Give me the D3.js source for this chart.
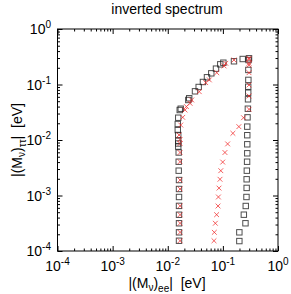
<!DOCTYPE html>
<html><head><meta charset="utf-8">
<script src="https://cdn.jsdelivr.net/npm/d3@7"></script>
<style>body{margin:0;background:#fff}svg{display:block}</style>
</head><body><svg id="c" width="291" height="294"></svg>
<script>
const title = "inverted spectrum";
const tickExps = [-4, -3, -2, -1, 0];
// series: open squares (black)
const squares = [
 [0.016,1.53e-4],[0.016,2.17e-4],[0.016,3.16e-4],[0.016,4.5e-4],[0.016,6.5e-4],[0.016,9.4e-4],
 [0.016,1.31e-3],[0.016,1.9e-3],[0.0158,2.8e-3],[0.0158,4.06e-3],[0.0158,5.95e-3],[0.0155,7.6e-3],
 [0.0155,8.65e-3],[0.0155,0.0097],[0.0155,0.0123],[0.0152,0.0151],[0.0152,0.0194],[0.0155,0.0252],
 [0.0165,0.0347],[0.0172,0.0366],[0.0236,0.0526],[0.0245,0.0565],[0.0312,0.0754],[0.0364,0.0902],
 [0.0435,0.111],[0.0515,0.135],[0.0616,0.159],[0.075,0.193],[0.0897,0.231],[0.102,0.247],
 [0.159,0.262],[0.229,0.288],[0.298,0.297],
 [0.292,0.276],[0.29,0.183],[0.29,0.121],[0.288,0.0912],[0.288,0.0711],[0.286,0.0541],[0.284,0.0366],
 [0.28,0.0256],[0.277,0.0174],[0.277,0.0122],[0.277,8.37e-3],[0.277,5.76e-3],[0.275,4.06e-3],
 [0.272,2.8e-3],[0.27,1.96e-3],[0.27,1.37e-3],[0.268,9.4e-4],[0.26,6.47e-4],[0.24,4.51e-4],
 [0.257,3.16e-4],[0.199,2.17e-4],[0.199,1.51e-4]
];
// series: crosses (red)
const crosses = [
 [0.0167,1.53e-4],[0.0167,2.17e-4],[0.0167,3.16e-4],[0.0167,4.5e-4],[0.0167,6.5e-4],[0.0167,1.31e-3],
 [0.0167,1.9e-3],[0.0167,4.06e-3],[0.0167,5.95e-3],[0.0167,8.65e-3],[0.0167,0.0102],[0.016,0.0123],
 [0.0172,0.0186],[0.0187,0.0256],[0.0206,0.0347],[0.0218,0.040],[0.0254,0.0458],[0.0272,0.0526],
 [0.0373,0.0742],[0.0488,0.108],[0.0568,0.121],[0.0775,0.163],[0.105,0.216],[0.113,0.241],[0.159,0.276],
 [0.298,0.297],[0.298,0.284],[0.298,0.241],[0.298,0.224],[0.298,0.163],[0.298,0.098],[0.298,0.0621],
 [0.298,0.0357],[0.237,0.0252],[0.195,0.0174],[0.152,0.0132],[0.122,8.5e-3],[0.109,5.95e-3],
 [0.0993,4.0e-3],[0.0917,2.8e-3],[0.0887,1.96e-3],[0.0851,1.36e-3],[0.083,9.4e-4],[0.0817,6.47e-4],
 [0.077,4.51e-4],[0.073,3.16e-4],[0.070,2.17e-4],[0.069,1.53e-4]
];

const svg = d3.select("#c");
const L = 57.5, R = 278, T = 29, B = 251;
const x = d3.scaleLog().domain([1e-4, 1]).range([L, R]);
const y = d3.scaleLog().domain([1e-4, 1]).range([B, T]);
const font = "'Liberation Sans', Arial, sans-serif";

const majors = tickExps.map(e => Math.pow(10, e));
const minors = [];
tickExps.slice(0, -1).forEach(e => { for (let k = 2; k <= 9; k++) minors.push(k * Math.pow(10, e)); });

function axisG(axisFn, scale, vals, size, tr) {
  const g = svg.append("g").attr("transform", tr)
    .call(axisFn(scale).tickValues(vals).tickSize(size).tickFormat(""));
  g.select(".domain").remove();
  g.selectAll("line").attr("stroke", "#000").attr("stroke-width", 1);
}
axisG(d3.axisBottom, x, majors, -5, `translate(0,${B})`);
axisG(d3.axisBottom, x, minors, -2.5, `translate(0,${B})`);
axisG(d3.axisTop, x, majors, -5, `translate(0,${T})`);
axisG(d3.axisTop, x, minors, -2.5, `translate(0,${T})`);
axisG(d3.axisLeft, y, majors, -5, `translate(${L},0)`);
axisG(d3.axisLeft, y, minors, -2.5, `translate(${L},0)`);
axisG(d3.axisRight, y, majors, -5, `translate(${R},0)`);
axisG(d3.axisRight, y, minors, -2.5, `translate(${R},0)`);

svg.append("rect").attr("x", L).attr("y", T).attr("width", R - L).attr("height", B - T)
  .attr("fill", "none").attr("stroke", "#000").attr("stroke-width", 1);

// tick labels
function powLabel(g, e) {
  g.append("tspan").text("10");
  g.append("tspan").attr("dy", -6).attr("font-size", 10).text(String(e));
}
tickExps.forEach(e => {
  const t = svg.append("text").attr("x", x(Math.pow(10, e))).attr("y", 271)
    .attr("text-anchor", "middle").attr("font-family", font).attr("font-size", 14);
  powLabel(t, e);
  const t2 = svg.append("text").attr("x", 51).attr("y", y(Math.pow(10, e)) + 5)
    .attr("text-anchor", "end").attr("font-family", font).attr("font-size", 14);
  powLabel(t2, e);
});

svg.append("text").attr("x", 167).attr("y", 14).attr("text-anchor", "middle")
  .attr("font-family", font).attr("font-size", 14).text(title);

function massLabel(t, sub) {
  t.append("tspan").text("|(M");
  t.append("tspan").attr("dy", 3).attr("font-size", 10).text("ν");
  t.append("tspan").attr("dy", -3).text(")");
  t.append("tspan").attr("dy", 4).attr("font-size", 10).text(sub);
  t.append("tspan").attr("dy", -4).text("|\u00a0\u00a0[eV]");
}
const xl = svg.append("text").attr("x", 167).attr("y", 288).attr("text-anchor", "middle")
  .attr("font-family", font).attr("font-size", 14);
massLabel(xl, "ee");
const yl = svg.append("text").attr("transform", "translate(22,140) rotate(-90)")
  .attr("text-anchor", "middle").attr("font-family", font).attr("font-size", 14);
massLabel(yl, "ττ");

// data
const s = 2.7;
svg.append("g").selectAll("rect").data(squares).join("rect")
  .attr("x", d => x(d[0]) - s).attr("y", d => y(d[1]) - s)
  .attr("width", 2 * s).attr("height", 2 * s)
  .attr("fill", "none").attr("stroke", "#222").attr("stroke-width", 1).attr("opacity", 0.8);
const c = 2.4;
svg.append("g").selectAll("path").data(crosses).join("path")
  .attr("d", d => { const px = x(d[0]), py = y(d[1]);
    return `M${px - c},${py - c}L${px + c},${py + c}M${px - c},${py + c}L${px + c},${py - c}`; })
  .attr("stroke", "#f02020").attr("stroke-width", 1).attr("opacity", 0.7).attr("fill", "none");
</script></body></html>
